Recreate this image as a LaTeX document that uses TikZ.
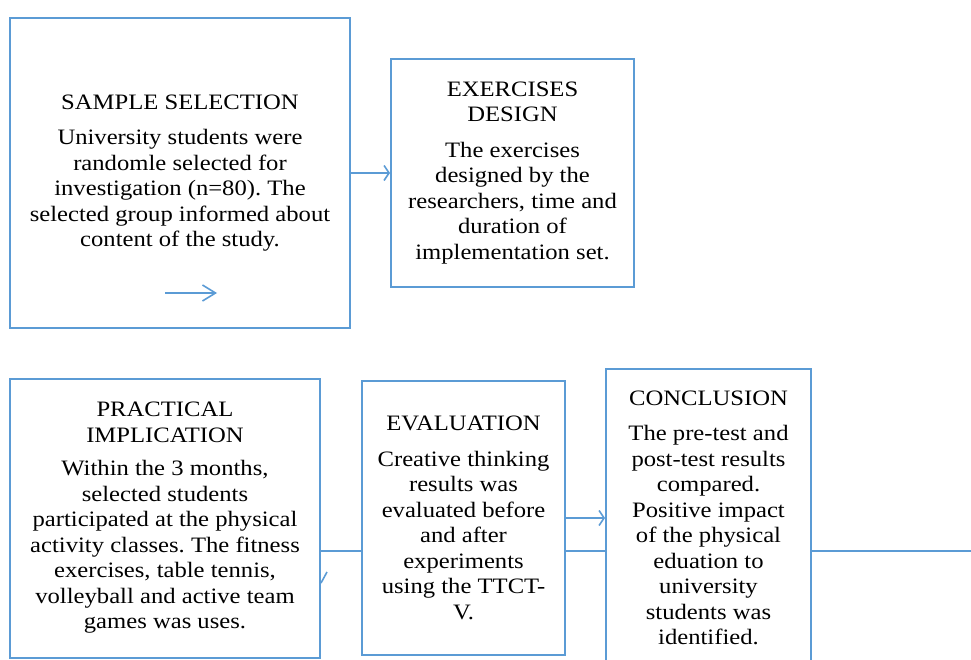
\documentclass[tikz,border=0pt]{standalone}
\usepackage{fontspec}
\setmainfont{Liberation Serif}[FakeStretch=1.12]
\usetikzlibrary{arrows.meta}
\definecolor{boxblue}{RGB}{91,155,213}
\tikzset{
	box/.style={draw=boxblue, line width=2pt, align=center, inner sep=0pt, font=\fontsize{22}{25.5}\selectfont\frenchspacing},
	link/.style={draw=boxblue, line width=1.6pt},
	tip/.style={-{Straight Barb[length=5pt,width=15pt]}},
}

\begin{document}
\begin{tikzpicture}[x=1pt,y=-1pt]
	\useasboundingbox (0,0) rectangle (971,660);
	% top row
	\node[box, minimum width=340pt, minimum height=310pt] (sample) at (180,173) {SAMPLE SELECTION\\[10pt]
		University students were\\ randomle selected for\\ investigation (n=80). The\\ selected group informed about\\ content of the study.};
	\node[box, minimum width=243pt, minimum height=227pt] (design) at (512.5,173) {EXERCISES\\ DESIGN\\[10pt]
		The exercises\\ designed by the\\ researchers, time and\\ duration of\\ implementation set.};
	% bottom row
	\node[box, minimum width=310pt, minimum height=279pt] (practical) at (165,518) {PRACTICAL\\ IMPLICATION\\[8pt]
		Within the 3 months,\\ selected students\\ participated at the physical\\ activity classes. The fitness\\ exercises, table tennis,\\ volleyball and active team\\ games was uses.};
	\node[box, minimum width=203pt, minimum height=274pt] (evaluation) at (463.5,518) {EVALUATION\\[10pt]
		Creative thinking\\ results was\\ evaluated before\\ and after\\ experiments\\ using the TTCT-\\ V.};
	\node[box, minimum width=205pt, minimum height=298pt] (conclusion) at (708.5,518) {CONCLUSION\\[10pt]
		The pre-test and\\ post-test results\\ compared.\\ Positive impact\\ of the physical\\ eduation to\\ university\\ students was\\ identified.};
	\coordinate (exit) at (971,551);
	\coordinate (s1) at (165,293);
	\coordinate (s2) at (217,293);
	% connectors
	\draw[link, tip] (sample.east) -- (design.west);
	\draw[link, -{Straight Barb[length=13pt,width=16pt]}] (s1) -- (s2);
	\draw[link] ([yshift=-33pt]practical.east) -- ([yshift=-33pt]evaluation.west);
	\draw[link] (321,583) -- (327,572);
	\draw[link, tip] (evaluation.east) -- (conclusion.west);
	\draw[link] ([yshift=-33pt]evaluation.east) -- ([yshift=-33pt]conclusion.west);
	\draw[link] (conclusion.east |- exit) -- (exit);
\end{tikzpicture}
\end{document}
